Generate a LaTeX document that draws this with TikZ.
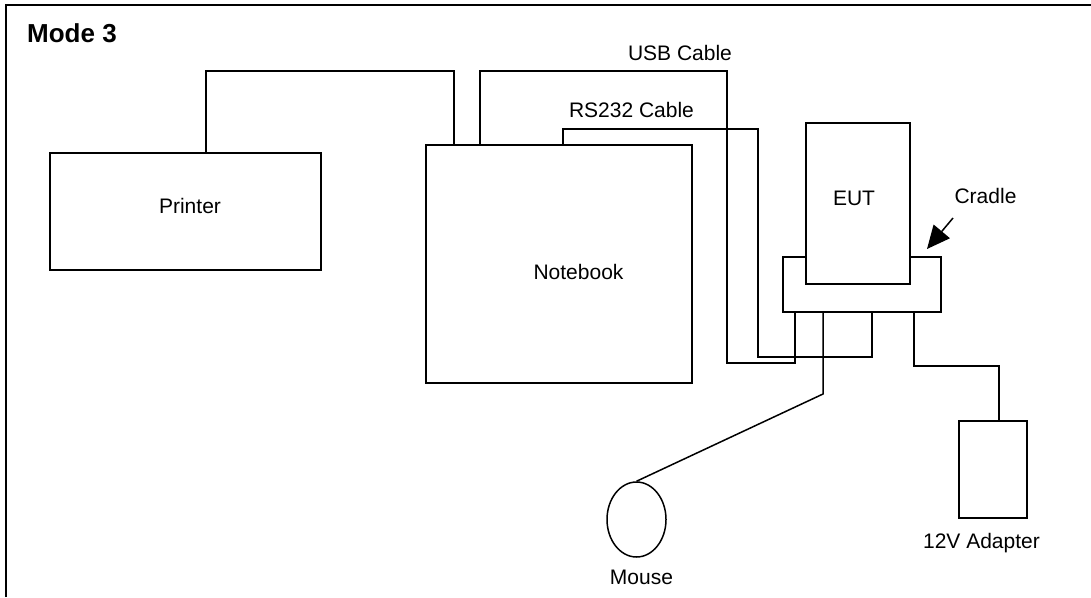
\documentclass[tikz,border=0pt]{standalone}
\usepackage{fontspec}
\setmainfont{Liberation Sans}
\usetikzlibrary{shapes.geometric,arrows.meta}
\begin{document}
\begin{tikzpicture}[x=1pt,y=-1pt,
  box/.style={draw,rectangle,line width=1.5pt,inner sep=0pt},
  wire/.style={draw,line width=1.5pt,line join=miter},
  lbl/.style={anchor=base,inner sep=0pt,font=\fontsize{21pt}{25pt}\selectfont}]
\useasboundingbox (0,0) rectangle (1091,597);
\fill[white] (0,0) rectangle (1091,597);
% frame
\draw[line width=2pt] (5.5,597) -- (5.5,5) -- (1091,5);
\node[anchor=base west,inner sep=0pt,font=\fontsize{26pt}{30pt}\selectfont\bfseries] (title) at (27,42) {Mode 3};
% devices
\node[box,minimum width=271pt,minimum height=117pt] (printer) at (185.5,211.5) {};
\node[box,minimum width=266pt,minimum height=238pt] (notebook) at (559,264) {};
\node[box,minimum width=158pt,minimum height=55pt] (cradle) at (862,284.5) {};
\node[box,fill=white,minimum width=104pt,minimum height=161pt] (eut) at (858,203.5) {};
\node[box,minimum width=68pt,minimum height=97pt] (adapter) at (993,469.5) {};
\node[draw,ellipse,line width=1.5pt,inner sep=0pt,minimum width=59pt,minimum height=75pt] (mouse) at (636.5,519.5) {};
% labels
\node[lbl] (tprinter) at (190,213) {Printer};
\node[lbl] (tnotebook) at (578.5,279) {Notebook};
\node[lbl] (teut) at (854,205) {EUT};
\node[lbl] (tusb) at (680,60) {USB Cable};
\node[lbl] (trs) at (631.5,117) {RS232 Cable};
\node[lbl] (tcradle) at (985.5,203) {Cradle};
\node[lbl] (tadapter) at (981.5,548) {12V Adapter};
\node[lbl] (tmouse) at (641.5,584) {Mouse};
% bend points
\coordinate (p1) at (206,71);
\coordinate (p2) at (454,71);
\coordinate (u1) at (480,71);
\coordinate (u2) at (727,71);
\coordinate (u3) at (727,363);
\coordinate (u4) at (795,363);
\coordinate (r1) at (563,129);
\coordinate (r2) at (758,129);
\coordinate (r3) at (758,357);
\coordinate (r4) at (872,357);
\coordinate (m1) at (823,394);
\coordinate (a1) at (914,366);
\coordinate (a2) at (999,366);
\coordinate (ca) at (953,218);
\coordinate (cb) at (927,249);
% cables
\draw[wire] (p1 |- printer.north) -- (p1) -- (p2) -- (p2 |- notebook.north);
\draw[wire] (u1 |- notebook.north) -- (u1) -- (u2) -- (u3) -- (u4) -- (u4 |- cradle.south);
\draw[wire] (r1 |- notebook.north) -- (r1) -- (r2) -- (r3) -- (r4) -- (r4 |- cradle.south);
\draw[wire] (m1 |- cradle.south) -- (m1) -- (mouse.north);
\draw[wire] (a1 |- cradle.south) -- (a1) -- (a2) -- (a2 |- adapter.north);
\draw[line width=1.5pt,-{Triangle[length=23pt,width=21pt]}] (ca) -- (cb);
\end{tikzpicture}
\end{document}
